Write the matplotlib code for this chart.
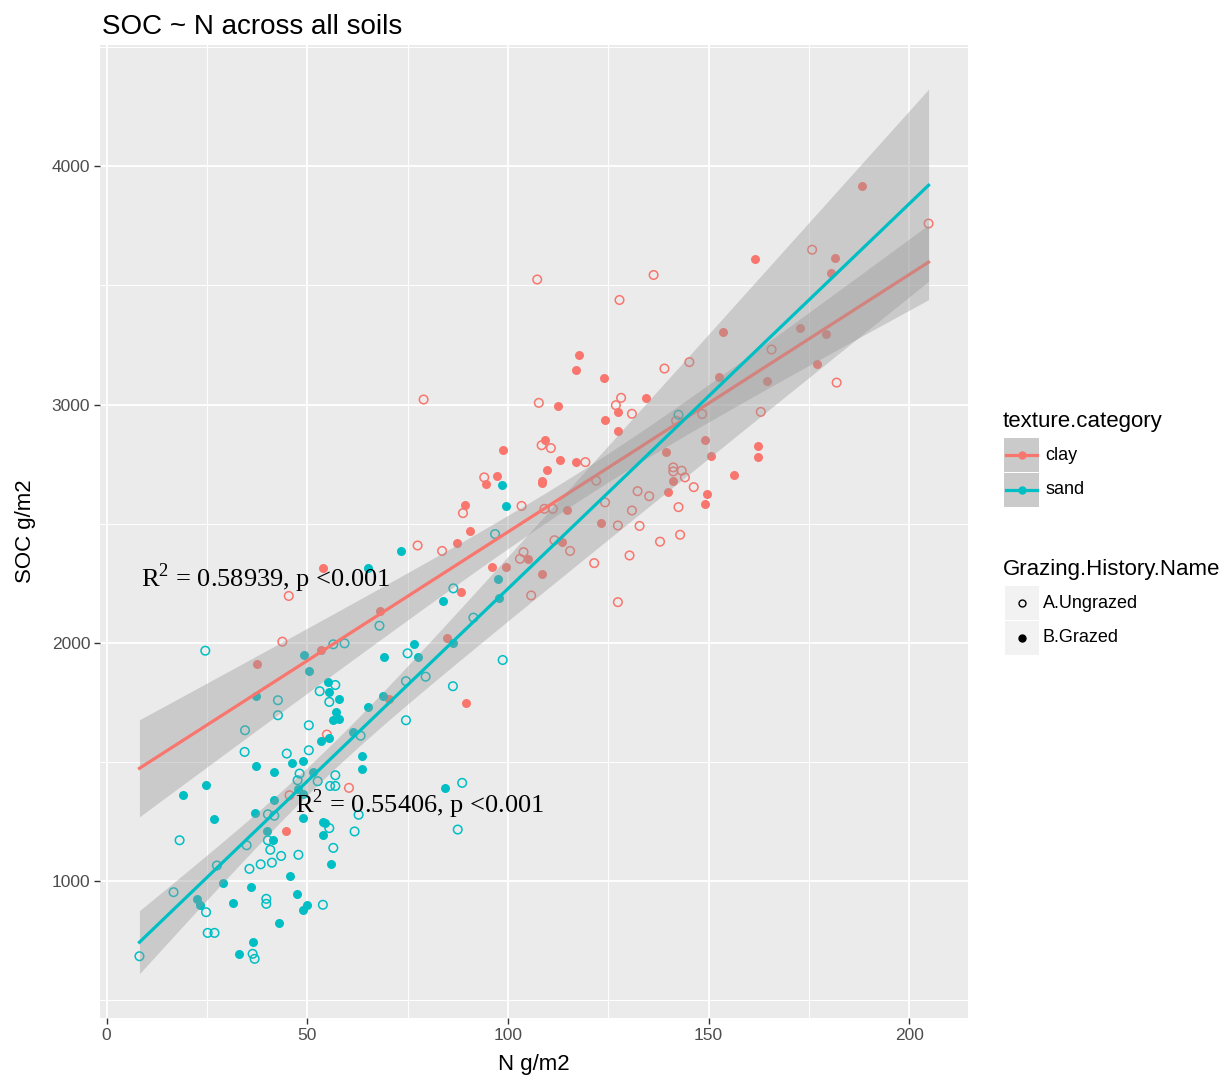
# SOC ~ N scatter with linear fits per soil texture (ggplot look)

import numpy as np
import matplotlib.pyplot as plt
from matplotlib.patches import Rectangle

# Data: N (g/m2) and SOC (g/m2)
clay_grazed_n = [37.5, 53.5, 70.3, 44.6, 87.3, 96.1, 99.5, 104.9, 108.5, 88.3, 84.9, 89.6,
                 112.4, 98.7, 109.3, 113.1, 117.0, 109.7, 108.6, 108.6, 97.2, 94.6, 89.4, 90.6,
                 114.7, 123.2, 113.5, 124.0, 127.4, 124.3, 127.4, 117.7, 117.0, 134.4, 152.5,
                 149.1, 150.6, 139.4, 141.2, 139.8, 149.6, 149.1, 188.1, 181.6, 180.5, 161.5,
                 153.7, 172.7, 179.2, 164.5, 176.9, 162.2, 162.2, 156.4, 53.9, 68.2]
clay_grazed_soc = [1909, 1969, 1763, 1209, 2418, 2319, 2319, 2352, 2287, 2214, 2021, 1745,
                   2993, 2810, 2850, 2765, 2758, 2726, 2680, 2670, 2700, 2666, 2576, 2469,
                   2555, 2504, 2424, 3112, 2969, 2935, 2890, 3210, 3144, 3028, 3115,
                   2850, 2784, 2799, 2680, 2633, 2625, 2582, 3917, 3617, 3551, 3610,
                   3304, 3320, 3297, 3099, 3171, 2824, 2778, 2703, 2313, 2133]

clay_ungrazed_n = [43.8, 54.9, 60.4, 45.6, 77.5, 83.6, 103.9, 103.0, 105.8, 115.5, 121.5, 79.0,
                   107.7, 108.4, 110.7, 119.3, 94.1, 88.8, 103.4, 109.1, 111.2, 122.0, 124.2,
                   127.4, 111.6, 127.4, 128.2, 126.9, 130.3, 107.3, 136.3, 127.8, 139.0, 145.2,
                   130.9, 148.4, 141.9, 141.2, 141.2, 143.3, 144.1, 146.3, 142.5, 142.9, 132.3,
                   135.2, 130.9, 132.8, 137.9, 204.8, 175.8, 165.7, 181.9, 163.0, 45.4]
clay_ungrazed_soc = [2004, 1614, 1390, 1359, 2408, 2385, 2380, 2352, 2198, 2385, 2334, 3021,
                     3007, 2829, 2817, 2758, 2694, 2544, 2574, 2562, 2562, 2680, 2589,
                     2492, 2430, 2170, 3028, 2997, 2366, 3525, 3544, 3439, 3151, 3178,
                     2961, 2960, 2932, 2736, 2719, 2722, 2694, 2653, 2569, 2453, 2636,
                     2615, 2555, 2490, 2424, 3760, 3650, 3231, 3092, 2969, 2196]

sand_grazed_n = [37.3, 37.3, 41.8, 24.8, 19.0, 26.8, 36.9, 41.8, 39.9, 41.4, 22.5, 23.2,
                 29.1, 36.1, 31.5, 36.4, 33.0, 43.0, 49.3, 50.4, 76.7, 69.2, 55.1, 55.5,
                 58.0, 57.2, 58.0, 56.4, 65.1, 69.0, 55.5, 53.5, 61.5, 46.2, 48.9, 63.7,
                 63.7, 51.4, 47.6, 48.9, 48.9, 53.9, 54.5, 53.9, 55.8, 45.7, 47.4, 48.9,
                 50.0, 73.4, 97.6, 97.9, 83.9, 86.4, 77.5, 84.4, 98.5, 99.5, 65.1]
sand_grazed_soc = [1777, 1483, 1457, 1404, 1359, 1261, 1286, 1337, 1209, 1170, 924, 900,
                   990, 972, 906, 742, 692, 823, 1948, 1882, 1993, 1941, 1836, 1791,
                   1763, 1710, 1681, 1674, 1731, 1777, 1600, 1586, 1626, 1496, 1501, 1523,
                   1468, 1457, 1387, 1366, 1263, 1247, 1244, 1194, 1069, 1018, 945, 879,
                   899, 2385, 2267, 2189, 2175, 1997, 1941, 1391, 2660, 2574, 2313]

sand_ungrazed_n = [24.6, 42.7, 42.7, 34.5, 34.4, 40.2, 41.8, 40.2, 18.2, 34.9, 40.8, 35.6,
                   38.4, 41.2, 27.5, 16.7, 39.8, 39.8, 24.8, 25.2, 26.9, 36.4, 36.9, 8.2,
                   68.0, 56.5, 59.3, 75.0, 57.0, 53.1, 55.5, 74.6, 74.6, 50.4, 63.3, 44.9,
                   50.4, 48.1, 57.0, 52.6, 55.7, 57.0, 47.6, 62.8, 55.5, 61.8, 43.5, 47.8,
                   56.5, 53.9, 86.4, 91.4, 98.7, 79.5, 86.3, 88.6, 87.5, 96.8, 142.5]
sand_ungrazed_soc = [1966, 1758, 1695, 1632, 1541, 1279, 1273, 1170, 1170, 1149, 1130, 1050,
                     1069, 1076, 1064, 952, 924, 903, 868, 781, 781, 693, 672, 683,
                     2071, 1993, 1997, 1955, 1822, 1796, 1751, 1838, 1674, 1653, 1609, 1534,
                     1548, 1450, 1443, 1418, 1398, 1398, 1422, 1277, 1221, 1207, 1104, 1109,
                     1138, 899, 2228, 2105, 1927, 1857, 1817, 1411, 1215, 2456, 2957]

textures = ['clay', 'sand']
grazing = ['A.Ungrazed', 'B.Grazed']
colors = {'clay': '#F8766D', 'sand': '#00BFC4'}
r2_labels = {'clay': 'R$^2$ = 0.58939, p <0.001', 'sand': 'R$^2$ = 0.55406, p <0.001'}
r2_pos = {'clay': (39.6, 2270), 'sand': (78.1, 1320)}

groups = {
    'clay': (clay_grazed_n, clay_grazed_soc, clay_ungrazed_n, clay_ungrazed_soc),
    'sand': (sand_grazed_n, sand_grazed_soc, sand_ungrazed_n, sand_ungrazed_soc),
}

plt.rcParams['font.family'] = ['Liberation Sans', 'DejaVu Sans']
plt.rcParams['mathtext.fontset'] = 'custom'
plt.rcParams['mathtext.rm'] = 'Liberation Serif'

fig = plt.figure(figsize=(12.3, 10.82), dpi=100)
ax = fig.add_axes([100 / 1230, 1 - 1018 / 1082, 868 / 1230, 973 / 1082])
ax.set_facecolor('#EBEBEB')
for s in ax.spines.values():
    s.set_visible(False)

all_n = np.concatenate([np.r_[g[0], g[2]] for g in groups.values()])
xs = np.linspace(all_n.min(), all_n.max(), 80)


# linear model with 95% confidence band
def lm_band(x, y, xs):
    x = np.asarray(x, float)
    y = np.asarray(y, float)
    n = len(x)
    b1, b0 = np.polyfit(x, y, 1)
    resid = y - (b0 + b1 * x)
    s = np.sqrt(np.sum(resid ** 2) / (n - 2))
    sxx = np.sum((x - x.mean()) ** 2)
    se = s * np.sqrt(1 / n + (xs - x.mean()) ** 2 / sxx)
    fit = b0 + b1 * xs
    return fit, fit - 1.98 * se, fit + 1.98 * se


# points (under the ribbons, like ggplot layer order)
for tex in textures:
    gn, gs, un, us = groups[tex]
    ax.scatter(un, us, s=38, facecolors='none', edgecolors=colors[tex], linewidths=1.1, zorder=2)
    ax.scatter(gn, gs, s=42, color=colors[tex], linewidths=0, zorder=2)

ymin, ymax = [], []
z = 3
for tex in textures:
    gn, gs, un, us = groups[tex]
    fit, lo, hi = lm_band(np.r_[gn, un], np.r_[gs, us], xs)
    ax.fill_between(xs, lo, hi, color='#999999', alpha=0.4, linewidth=0, zorder=z)
    ax.plot(xs, fit, color=colors[tex], lw=2.3, zorder=z + 0.1)
    z += 0.2
    ymin.append(lo.min())
    ymax.append(hi.max())
    ax.text(*r2_pos[tex], r2_labels[tex], family='Liberation Serif', fontsize=19,
            ha='center', va='center', zorder=6)

all_soc = np.concatenate([np.r_[g[1], g[3]] for g in groups.values()])
y0 = min(min(ymin), all_soc.min())
y1 = max(max(ymax), all_soc.max())
x0, x1 = all_n.min(), all_n.max()
ax.set_xlim(x0 - 0.05 * (x1 - x0), x1 + 0.05 * (x1 - x0))
ax.set_ylim(y0 - 0.05 * (y1 - y0), y1 + 0.05 * (y1 - y0))

ax.set_xticks([0, 50, 100, 150, 200])
ax.set_yticks([1000, 2000, 3000, 4000])
ax.set_xticks([25, 75, 125, 175], minor=True)
ax.set_yticks([500, 1500, 2500, 3500, 4500], minor=True)
ax.grid(True, which='major', color='white', lw=1.3)
ax.grid(True, which='minor', color='white', lw=0.7)
ax.set_axisbelow(True)
ax.tick_params(which='major', length=4, width=1, color='#333333', labelcolor='#4D4D4D',
               labelsize=12.5, pad=3)
ax.tick_params(which='minor', length=0)

ax.set_title('SOC ~ N across all soils', loc='left', fontsize=20, pad=8, x=0.002)
ax.set_xlabel('N g/m2', fontsize=16, labelpad=8)
ax.set_ylabel('SOC g/m2', fontsize=16, labelpad=11)

# legends drawn in figure pixel space
lay = fig.add_axes([0, 0, 1, 1])
lay.set_xlim(0, 1230)
lay.set_ylim(1082, 0)
lay.axis('off')

lay.text(1003, 422, 'texture.category', fontsize=16, va='center')
for i, tex in enumerate(textures):
    yc = 455 + i * 35
    lay.add_patch(Rectangle((1004, yc - 17), 35, 34, color='#CACACA', lw=0))
    lay.plot([1006, 1037], [yc, yc], color=colors[tex], lw=2.3)
    lay.plot([1021.5], [yc], 'o', color=colors[tex], ms=5)
    lay.text(1045, yc, tex, fontsize=13, va='center')

lay.text(1003, 570, 'Grazing.History.Name', fontsize=16, va='center')
for i, g in enumerate(grazing):
    yc = 603 + i * 35
    lay.add_patch(Rectangle((1005, yc - 17), 34, 34, color='#F2F2F2', lw=0))
    if g == 'A.Ungrazed':
        lay.plot([1022], [yc], 'o', mfc='none', mec='black', ms=5, mew=1)
    else:
        lay.plot([1022], [yc], 'o', color='black', ms=5)
    lay.text(1043, yc, g, fontsize=13, va='center')

fig.savefig('out.png', dpi=100)
